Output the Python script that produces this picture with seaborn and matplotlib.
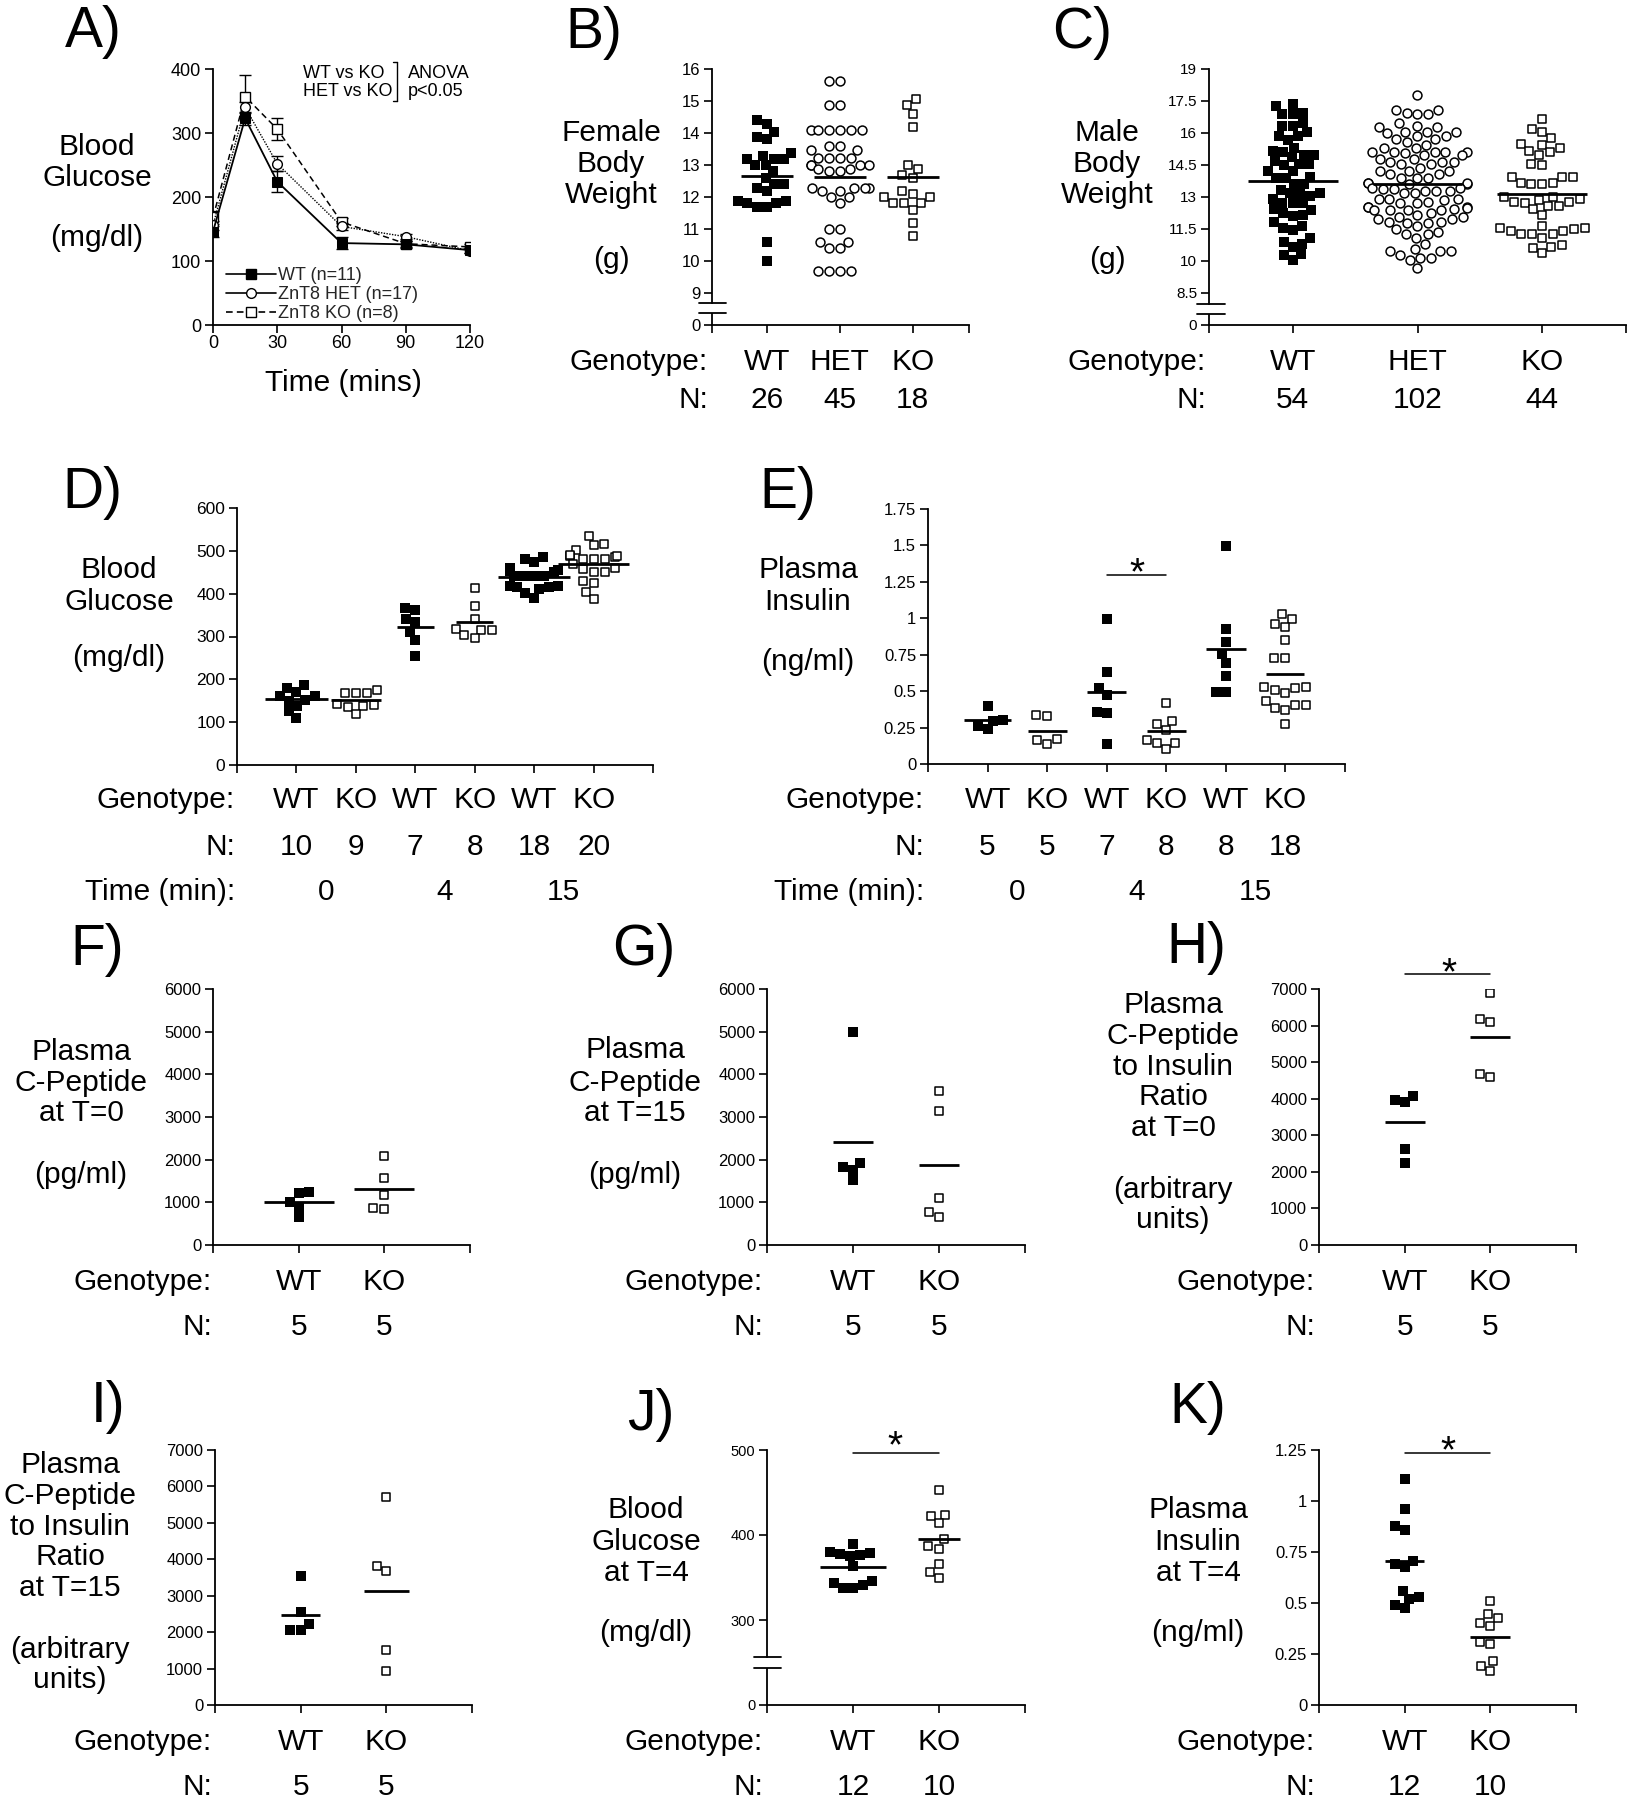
import warnings
warnings.filterwarnings('ignore')
import numpy as np
import matplotlib
matplotlib.use('Agg')
import matplotlib.pyplot as plt
import matplotlib.transforms as mtransforms
from matplotlib.lines import Line2D
import seaborn as sns

# ------------------------------------------------------------------ data
# A) glucose tolerance (mean, SEM)
time_min = [0, 15, 30, 60, 90, 120]
a_wt_mean = [146, 323, 224, 128, 126, 117]
a_wt_sem = [9, 10, 16, 9, 5, 4]
a_het_mean = [156, 340, 252, 154, 138, 116]
a_het_sem = [7, 8, 12, 5, 4, 4]
a_ko_mean = [168, 357, 306, 161, 127, 122]
a_ko_sem = [10, 34, 17, 6, 5, 4]
a_labels = ["WT (n=11)", "ZnT8 HET (n=17)", "ZnT8 KO (n=8)"]

# B) female body weight (g)
b_wt = [14.02, 14.29, 14.41, 13.81, 13.89, 13.18, 13.18, 13.29, 13.39, 13.18, 13.0, 13.0,
        12.8, 12.59, 12.41, 12.41, 12.27, 12.2, 11.88, 11.81, 11.88, 11.81, 11.68, 11.68,
        10.6, 10.0]
b_het = [15.61, 15.61, 14.88, 14.88, 14.08, 14.08, 14.08, 14.08, 14.08, 14.08,
         13.47, 13.6, 13.47, 13.6, 13.21, 13.21, 13.21, 13.21, 13.0, 13.0, 13.0, 13.0,
         12.8, 12.87, 12.8, 12.87, 12.2, 12.27, 12.27, 12.27, 12.27, 12.2, 11.99, 11.99,
         11.81, 10.99, 10.99, 10.6, 10.4, 10.4, 10.6, 9.69, 9.69, 9.69, 9.69]
b_ko = [15.07, 14.88, 14.6, 14.18, 13.0, 12.88, 12.69, 12.59, 12.2, 11.99, 11.99, 12.09,
        11.81, 11.81, 11.81, 11.6, 11.2, 10.79]

# C) male body weight (g)
c_wt = [17.37, 17.25, 16.9, 16.93, 16.9, 16.46, 16.35, 16.35, 15.87, 16.04, 15.87, 15.68,
        15.17, 15.31, 15.09, 14.87, 14.96, 14.96, 14.48, 14.56, 14.68, 14.56, 14.21, 14.21,
        13.96, 13.88, 13.91, 13.6, 13.6, 13.35, 13.18, 13.18, 13.05, 13.18, 12.9, 12.74,
        12.74, 12.74, 12.43, 12.4, 12.15, 12.27, 12.11, 11.82, 11.64, 11.47, 11.55, 10.91,
        11.08, 10.78, 10.66, 10.33, 10.28, 10.05]
c_het = [17.8, 16.93, 16.9, 17.1, 17.1, 16.9,
         16.28, 16.28, 16.46, 16.34, 16.04, 16.04, 15.99, 16.04,
         15.71, 15.71, 15.87, 15.84, 15.45, 15.56,
         15.09, 15.13, 15.29, 15.1, 15.09, 15.06, 14.98, 15.09, 14.96, 15.29,
         14.77, 14.77, 14.63, 14.63, 14.63, 14.54, 14.54,
         14.24, 14.38, 14.07, 14.2, 14.24, 14.07,
         13.91, 13.91, 13.91, 13.6, 13.65, 13.65, 13.6, 13.65, 13.44,
         13.37, 13.29, 13.37, 13.29, 13.44, 13.18, 13.18, 13.29,
         12.9, 12.9, 12.9, 12.87, 12.76, 12.71, 12.71,
         12.55, 12.55, 12.55, 12.47, 12.44, 12.4, 12.4, 12.4, 12.4,
         12.08, 12.16, 12.27, 12.08, 11.8, 11.96, 11.85, 11.96, 11.8, 11.85,
         11.64, 11.25, 11.25, 11.07, 11.38, 11.49,
         10.78, 10.47, 10.47, 10.47, 10.58, 10.16, 10.16, 10.28, 10.05, 9.69]
c_ko = [16.65, 16.18, 16.07, 15.76, 15.48, 15.45, 15.29, 15.1, 14.98, 15.17,
        14.51, 14.56, 13.96, 13.96, 13.96, 13.65, 13.6, 13.6, 13.65,
        13.02, 12.74, 12.99, 12.76, 12.58, 12.87, 12.44, 12.9, 12.58, 12.76, 12.16,
        11.53, 11.49, 11.66, 11.07, 11.25, 11.25, 11.41, 11.53, 11.25, 11.41,
        10.75, 10.64, 10.36, 10.6]

# D) blood glucose (mg/dl) at 0, 4, 15 min
d_wt0 = [187, 161, 151, 161, 179, 171, 149, 137, 125, 110]
d_ko0 = [167, 167, 169, 175, 141, 143, 138, 136, 120]
d_wt4 = [361, 367, 342, 333, 311, 291, 255]
d_ko4 = [414, 372, 340, 316, 316, 318, 296, 303]
d_wt15 = [486, 482, 473, 451, 453, 455, 459, 441, 441, 441, 441, 416, 416, 419, 419, 410, 402, 390]
d_ko15 = [535, 517, 513, 502, 482, 487, 486, 482, 487, 490, 482, 469, 457, 459, 451, 451,
          430, 424, 404, 387]

# E) plasma insulin (ng/ml) at 0, 4, 15 min
e_wt0 = [0.396, 0.297, 0.304, 0.24, 0.259]
e_ko0 = [0.339, 0.332, 0.137, 0.167, 0.172]
e_wt4 = [0.998, 0.629, 0.522, 0.476, 0.35, 0.357, 0.14]
e_ko4 = [0.419, 0.297, 0.275, 0.236, 0.167, 0.144, 0.144, 0.105]
e_wt15 = [1.499, 0.929, 0.837, 0.755, 0.693, 0.602, 0.492, 0.492]
e_ko15 = [0.998, 1.03, 0.94, 0.963, 0.849, 0.728, 0.728, 0.522, 0.526, 0.526, 0.487, 0.506,
          0.384, 0.403, 0.368, 0.43, 0.403, 0.277]

genotypes6 = ["WT", "KO", "WT", "KO", "WT", "KO"]
times6 = ["0", "4", "15"]

# F) - K)
f_wt = [1212, 1236, 1017, 899, 665]
f_ko = [2096, 1564, 1173, 860, 837]
g_wt = [4981, 1916, 1760, 1838, 1525]
g_ko = [3621, 3151, 1110, 782, 665]
h_wt = [3897, 4061, 3952, 2629, 2236]
h_ko = [6891, 6097, 6188, 4582, 4682]
i_wt = [3541, 2544, 2214, 2059, 2059]
i_ko = [5719, 3816, 3678, 1510, 942]
j_wt = [390, 378, 379, 380, 376, 375, 364, 338, 341, 346, 344, 338]
j_ko = [453, 422, 424, 414, 387, 395, 384, 366, 356, 349]
k_wt = [1.108, 0.959, 0.877, 0.858, 0.707, 0.690, 0.678, 0.559, 0.528, 0.520, 0.477, 0.490]
k_ko = [0.51, 0.446, 0.425, 0.40, 0.387, 0.31, 0.299, 0.217, 0.193, 0.168]

# ------------------------------------------------------------------ style
sns.set_theme(style='ticks')
plt.rcParams['font.family'] = ['Liberation Sans', 'DejaVu Sans']
plt.rcParams['axes.linewidth'] = 1.2

W, H = 1628, 1800
fig = plt.figure(figsize=(W / 100, H / 100), dpi=100)
fig.patch.set_facecolor('white')

BIG = 21.5
LETTER = 41
MS_FILL = 7.0
MS_OPEN = 6.4


def add_ax(x0, x1, ytop, ybot):
    ax = fig.add_axes([x0 / W, 1 - ybot / H, (x1 - x0) / W, (ybot - ytop) / H])
    ax.set_facecolor('none')
    return ax


def txt(x, y, s, size, ha='center', va='center', **kw):
    fig.text(x / W, 1 - y / H, s, fontsize=size, ha=ha, va=va, color='black', **kw)


def style(ax, tsize, xlim, ylim, xticks, yticks, xticklabels=None, yticklabels=None,
          xpad=2.5):
    ax.set_xlim(xlim)
    ax.set_ylim(ylim)
    ax.set_xticks(xticks)
    ax.set_yticks(yticks)
    ax.set_xticklabels(xticklabels if xticklabels is not None else [''] * len(xticks))
    if yticklabels is not None:
        ax.set_yticklabels(yticklabels)
    for s in ('top', 'right'):
        ax.spines[s].set_visible(False)
    for s in ('left', 'bottom'):
        ax.spines[s].set_linewidth(1.3)
        ax.spines[s].set_color('black')
    ax.tick_params(axis='both', direction='out', length=5.5, width=1.2, color='black',
                   labelsize=tsize, labelcolor='black')
    ax.tick_params(axis='y', pad=3)
    ax.tick_params(axis='x', pad=xpad)
    ax.set_xlabel('')
    ax.set_ylabel('')
    ax.grid(False)


def swarm(ax, name, vals, order, kind):
    kw = dict(x=[name] * len(vals), y=vals, order=order, ax=ax)
    if kind == 'wt':
        sns.swarmplot(**kw, size=MS_FILL, marker='s', color='black', linewidth=0)
    elif kind == 'het':
        sns.swarmplot(**kw, size=MS_OPEN, marker='o', color='white', edgecolor='black',
                      linewidth=1.1)
    else:
        sns.swarmplot(**kw, size=MS_OPEN, marker='s', color='white', edgecolor='black',
                      linewidth=1.1)


def mean_line(ax, i, vals, w):
    ax.hlines(np.mean(vals), i - w / 2, i + w / 2, colors='black', lw=2.0, zorder=6)


def xpix(i, x0, x1, xlim):
    return x0 + (i - xlim[0]) / (xlim[1] - xlim[0]) * (x1 - x0)


def rows(x_right, ys, xs, row_items, size):
    for (title, items), y in zip(row_items, ys):
        txt(x_right, y, title, size, ha='right')
        for x, s in zip(xs, items):
            txt(x, y, s, size)


def axis_break(ax, y_up, y_low, y_bottom, xf0, xf1, y_top):
    tr = mtransforms.blended_transform_factory(ax.transAxes, ax.transData)
    for yy in (y_up, y_low):
        ax.plot([xf0, xf1], [yy, yy], transform=tr, color='black', lw=1.3, clip_on=False)
    ax.spines['left'].set_bounds(y_up, y_top)
    ax.plot([0, 0], [y_bottom, y_low], transform=tr, color='black', lw=1.3, clip_on=False,
            solid_capstyle='butt')


def star(x, y_center, size=28):
    em = size * 100 / 72
    txt(x, y_center + 0.58 * em, '*', size, va='baseline')


def sig_bar(ax, a, b, y):
    ax.plot([a, b], [y, y], color='black', lw=1.1, clip_on=False)


# ------------------------------------------------------------------ A
axA = add_ax(213, 470, 69, 325)
for m, e in ((a_wt_mean, a_wt_sem), (a_het_mean, a_het_sem), (a_ko_mean, a_ko_sem)):
    axA.errorbar(time_min, m, yerr=e, fmt='none', ecolor='black', elinewidth=1.0,
                 capsize=4, capthick=1.0, zorder=1)
sns.lineplot(x=time_min, y=a_ko_mean, ax=axA, color='black', marker='s', markersize=7,
             markerfacecolor='white', markeredgecolor='black', markeredgewidth=1.0,
             linewidth=1.1, linestyle=(0, (4, 2.5)), errorbar=None, zorder=3)
sns.lineplot(x=time_min, y=a_het_mean, ax=axA, color='black', marker='o', markersize=7,
             markerfacecolor='white', markeredgecolor='black', markeredgewidth=1.0,
             linewidth=1.0, linestyle=(0, (1, 1)), errorbar=None, zorder=4)
sns.lineplot(x=time_min, y=a_wt_mean, ax=axA, color='black', marker='s', markersize=7,
             markerfacecolor='black', markeredgecolor='black', linewidth=1.3,
             linestyle='-', errorbar=None, zorder=5)
style(axA, 13, (0, 120), (0, 400), [0, 30, 60, 90, 120], [0, 100, 200, 300, 400],
      xticklabels=['0', '30', '60', '90', '120'], xpad=1.5)
handles = [Line2D([], [], color='black', lw=1.2, marker='s', ms=7, mfc='black', ls='-'),
           Line2D([], [], color='black', lw=1.2, marker='o', ms=7, mfc='white', ls='-'),
           Line2D([], [], color='black', lw=1.2, marker='s', ms=7, mfc='white', ls=(0, (4, 2.5)))]
axA.legend(handles, a_labels, loc='lower left', bbox_to_anchor=(0.05, 0.01), frameon=False,
           fontsize=13, handlelength=2.8, handletextpad=0.1, labelspacing=0.12,
           borderpad=0, borderaxespad=0)
txt(93, 32, 'A)', LETTER)
for s, y in (('Blood', 147), ('Glucose', 178), ('(mg/dl)', 238)):
    txt(97, y, s, BIG)
txt(343, 383, 'Time (mins)', BIG)
txt(303, 74, 'WT vs KO', 13, ha='left')
txt(303, 92, 'HET vs KO', 13, ha='left')
txt(408, 74, 'ANOVA', 13, ha='left')
txt(408, 92, 'p<0.05', 13, ha='left')
fig.add_artist(Line2D([397 / W, 397 / W], [1 - 62 / H, 1 - 101 / H], color='black', lw=1.0))
fig.add_artist(Line2D([393 / W, 397 / W], [1 - 62 / H, 1 - 62 / H], color='black', lw=1.0))
fig.add_artist(Line2D([393 / W, 397 / W], [1 - 101 / H, 1 - 101 / H], color='black', lw=1.0))

# ------------------------------------------------------------------ B
order3 = ['WT', 'HET', 'KO']
rB = (712, 969, 69, 325)
axB = add_ax(*rB)
swarm(axB, 'WT', b_wt, order3, 'wt')
swarm(axB, 'HET', b_het, order3, 'het')
swarm(axB, 'KO', b_ko, order3, 'ko')
for i, v in enumerate((b_wt, b_het, b_ko)):
    mean_line(axB, i, v, 0.71)
xlB = (-0.75, 2.77)
style(axB, 12, xlB, (8, 16), [xlB[0], 0, 1, 2, xlB[1]], list(range(8, 17)),
      yticklabels=['0'] + [str(v) for v in range(9, 17)])
axis_break(axB, 8.69, 8.375, 8, -0.05, 0.054, 16)
txt(594, 33, 'B)', LETTER)
for s, y in (('Female', 133), ('Body', 164), ('Weight', 195), ('(g)', 260)):
    txt(611, y, s, BIG)
xsB = [xpix(i, rB[0], rB[1], xlB) for i in range(3)]
rows(708, [362, 400], xsB, [('Genotype:', order3),
                           ('N:', [str(len(v)) for v in (b_wt, b_het, b_ko)])], BIG)

# ------------------------------------------------------------------ C
rC = (1209, 1626, 69, 325)
axC = add_ax(*rC)
swarm(axC, 'WT', c_wt, order3, 'wt')
swarm(axC, 'HET', c_het, order3, 'het')
swarm(axC, 'KO', c_ko, order3, 'ko')
for i, v in enumerate((c_wt, c_het, c_ko)):
    mean_line(axC, i, v, 0.72)
xlC = (-0.67, 2.67)
style(axC, 11, xlC, (7, 19), [xlC[0], 0, 1, 2, xlC[1]],
      [7, 8.5, 10, 11.5, 13, 14.5, 16, 17.5, 19],
      yticklabels=['0', '8.5', '10', '11.5', '13', '14.5', '16', '17.5', '19'])
axis_break(axC, 7.98, 7.51, 7, -0.029, 0.038, 19)
txt(1082, 33, 'C)', LETTER)
for s, y in (('Male', 133), ('Body', 164), ('Weight', 195), ('(g)', 260)):
    txt(1107, y, s, BIG)
xsC = [xpix(i, rC[0], rC[1], xlC) for i in range(3)]
rows(1206, [362, 400], xsC, [('Genotype:', order3),
                            ('N:', [str(len(v)) for v in (c_wt, c_het, c_ko)])], BIG)

# ------------------------------------------------------------------ D
order6 = ['WT0', 'KO0', 'WT4', 'KO4', 'WT15', 'KO15']
xl6 = (-1, 6)
rD = (237, 653, 508, 765)
axD = add_ax(*rD)
d_sets = (d_wt0, d_ko0, d_wt4, d_ko4, d_wt15, d_ko15)
d_widths = (1.05, 0.85, 0.63, 0.63, 1.2, 1.2)
for i, (name, v) in enumerate(zip(order6, d_sets)):
    swarm(axD, name, v, order6, 'wt' if name.startswith('WT') else 'ko')
    mean_line(axD, i, v, d_widths[i])
style(axD, 12.5, xl6, (0, 600), list(range(-1, 7)), [0, 100, 200, 300, 400, 500, 600])
txt(92, 493, 'D)', LETTER)
for s, y in (('Blood', 570), ('Glucose', 602), ('(mg/dl)', 658)):
    txt(119, y, s, BIG)
xsD = [xpix(i, rD[0], rD[1], xl6) for i in range(6)]
rows(235, [800, 847], xsD, [('Genotype:', genotypes6),
                           ('N:', [str(len(v)) for v in d_sets])], BIG)
txt(235, 892, 'Time (min):', BIG, ha='right')
for k, t in enumerate(times6):
    txt((xsD[2 * k] + xsD[2 * k + 1]) / 2, 892, t, BIG)

# ------------------------------------------------------------------ E
rE = (928, 1345, 509, 764)
axE = add_ax(*rE)
e_sets = (e_wt0, e_ko0, e_wt4, e_ko4, e_wt15, e_ko15)
e_widths = (0.79, 0.65, 0.65, 0.65, 0.66, 0.64)
for i, (name, v) in enumerate(zip(order6, e_sets)):
    swarm(axE, name, v, order6, 'wt' if name.startswith('WT') else 'ko')
    mean_line(axE, i, v, e_widths[i])
style(axE, 12, xl6, (0, 1.75), list(range(-1, 7)),
      [0, 0.25, 0.5, 0.75, 1, 1.25, 1.5, 1.75],
      yticklabels=['0', '0.25', '0.5', '0.75', '1', '1.25', '1.5', '1.75'])
sig_bar(axE, 2, 3, 1.3)
star(1137, 562)
txt(788, 493, 'E)', LETTER)
for s, y in (('Plasma', 570), ('Insulin', 602), ('(ng/ml)', 662)):
    txt(808, y, s, BIG)
xsE = [xpix(i, rE[0], rE[1], xl6) for i in range(6)]
rows(924, [800, 847], xsE, [('Genotype:', genotypes6),
                           ('N:', [str(len(v)) for v in e_sets])], BIG)
txt(924, 892, 'Time (min):', BIG, ha='right')
for k, t in enumerate(times6):
    txt((xsE[2 * k] + xsE[2 * k + 1]) / 2, 892, t, BIG)

# ------------------------------------------------------------------ F-K
order2 = ['WT', 'KO']
xl2 = (-1, 2)


def two_group(rect, wt, ko, ylim, yticks, tsize, widths, yticklabels=None):
    ax = add_ax(*rect)
    swarm(ax, 'WT', wt, order2, 'wt')
    swarm(ax, 'KO', ko, order2, 'ko')
    mean_line(ax, 0, wt, widths[0])
    mean_line(ax, 1, ko, widths[1])
    style(ax, tsize, xl2, ylim, [-1, 0, 1, 2], yticks, yticklabels=yticklabels)
    xs = [xpix(i, rect[0], rect[1], xl2) for i in range(2)]
    return ax, xs


# F
axF, xsF = two_group((213, 470, 989, 1245), f_wt, f_ko, (0, 6000), list(range(0, 6001, 1000)),
                     12, (0.82, 0.7))
txt(97, 950, 'F)', LETTER)
for s, y in (('Plasma', 1052), ('C-Peptide', 1083), ('at T=0', 1113), ('(pg/ml)', 1175)):
    txt(81, y, s, BIG)
rows(212, [1282, 1327], xsF, [('Genotype:', order2), ('N:', [str(len(f_wt)), str(len(f_ko))])], BIG)

# G
axG, xsG = two_group((767, 1025, 989, 1245), g_wt, g_ko, (0, 6000), list(range(0, 6001, 1000)),
                     12, (0.46, 0.47))
txt(644, 950, 'G)', LETTER)
for s, y in (('Plasma', 1050), ('C-Peptide', 1083), ('at T=15', 1113), ('(pg/ml)', 1175)):
    txt(635, y, s, BIG)
rows(763, [1282, 1327], xsG, [('Genotype:', order2), ('N:', [str(len(g_wt)), str(len(g_ko))])], BIG)

# H
axH, xsH = two_group((1319, 1576, 989, 1245), h_wt, h_ko, (0, 7000), list(range(0, 7001, 1000)),
                     12, (0.47, 0.47))
sig_bar(axH, 0, 1, 7410)
star(1449, 962)
txt(1196, 948, 'H)', LETTER)
for s, y in (('Plasma', 1005), ('C-Peptide', 1036), ('to Insulin', 1067), ('Ratio', 1097),
             ('at T=0', 1128), ('(arbitrary', 1190), ('units)', 1220)):
    txt(1173, y, s, BIG)
rows(1315, [1282, 1327], xsH, [('Genotype:', order2), ('N:', [str(len(h_wt)), str(len(h_ko))])], BIG)

# I
axI, xsI = two_group((215, 472, 1450, 1705), i_wt, i_ko, (0, 7000), list(range(0, 7001, 1000)),
                     12, (0.46, 0.52))
txt(108, 1407, 'I)', LETTER)
for s, y in (('Plasma', 1465), ('C-Peptide', 1496), ('to Insulin', 1527), ('Ratio', 1557),
             ('at T=15', 1588), ('(arbitrary', 1650), ('units)', 1680)):
    txt(70, y, s, BIG)
rows(212, [1742, 1787], xsI, [('Genotype:', order2), ('N:', [str(len(i_wt)), str(len(i_ko))])], BIG)

# J
axJ, xsJ = two_group((767, 1025, 1450, 1705), j_wt, j_ko, (200, 500), [200, 300, 400, 500],
                     10.5, (0.77, 0.48), yticklabels=['0', '300', '400', '500'])
axis_break(axJ, 256.5, 243.5, 200, -0.05, 0.054, 500)
sig_bar(axJ, 0, 1, 497)
star(895, 1435)
txt(651, 1415, 'J)', LETTER)
for s, y in (('Blood', 1510), ('Glucose', 1542), ('at T=4', 1573), ('(mg/dl)', 1633)):
    txt(646, y, s, BIG)
rows(763, [1742, 1787], xsJ, [('Genotype:', order2), ('N:', [str(len(j_wt)), str(len(j_ko))])], BIG)

# K
axK, xsK = two_group((1319, 1576, 1450, 1705), k_wt, k_ko, (0, 1.25), [0, 0.25, 0.5, 0.75, 1, 1.25],
                     12, (0.46, 0.47), yticklabels=['0', '0.25', '0.5', '0.75', '1', '1.25'])
sig_bar(axK, 0, 1, 1.237)
star(1448, 1440)
txt(1198, 1408, 'K)', LETTER)
for s, y in (('Plasma', 1510), ('Insulin', 1542), ('at T=4', 1573), ('(ng/ml)', 1633)):
    txt(1198, y, s, BIG)
rows(1315, [1742, 1787], xsK, [('Genotype:', order2), ('N:', [str(len(k_wt)), str(len(k_ko))])], BIG)

fig.savefig('out.png', dpi=100, facecolor='white')
